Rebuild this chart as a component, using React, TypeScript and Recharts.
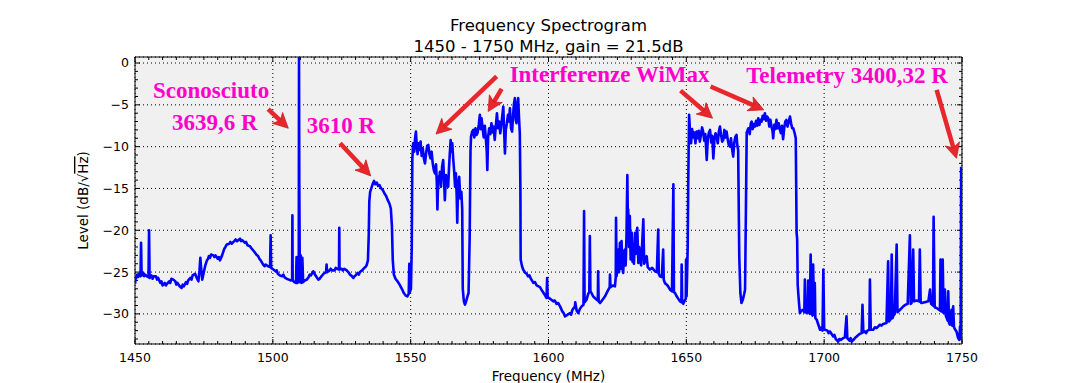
import React from "react";
import {
  CartesianGrid,
  Line,
  LineChart,
  ReferenceArea,
  ReferenceDot,
  ReferenceLine,
  XAxis,
  YAxis,
} from "recharts";

type Pt = [number, number];

// noise floor 1450-1534 MHz with a few narrow carriers
const floorLow: Pt[] = [
  [1450.0, -26.4], [1450.3, -25.6], [1450.8, -25.3], [1451.1, -25.6], [1451.4, -25.2], [1452.0, -25.5],
  [1452.2, -21.5], [1452.4, -25.4], [1453.0, -25.1], [1453.3, -25.5], [1453.6, -25.3], [1454.3, -25.5],
  [1454.9, -25.6], [1455.1, -20.0], [1455.3, -25.7], [1456.0, -25.4], [1456.4, -25.8], [1456.8, -25.5],
  [1457.6, -25.5], [1458.0, -25.9], [1458.4, -25.7], [1459.2, -26.3], [1459.6, -26.1], [1460.0, -26.6],
  [1460.8, -26.3], [1461.2, -26.6], [1461.6, -26.4], [1462.4, -26.1], [1462.8, -26.3], [1463.2, -25.8],
  [1463.9, -25.9], [1464.6, -26.1], [1465.0, -26.5], [1465.4, -26.3], [1466.2, -26.7], [1466.9, -26.9],
  [1467.3, -26.5], [1467.7, -26.7], [1468.5, -26.2], [1468.9, -26.4], [1469.3, -26.0], [1470.1, -25.7],
  [1470.5, -25.9], [1470.9, -25.4], [1471.8, -25.2], [1472.4, -25.7], [1473.0, -26.1], [1473.4, -24.8],
  [1473.7, -23.3], [1474.0, -24.6], [1474.4, -25.9], [1474.9, -25.1], [1475.5, -24.2], [1476.1, -23.6],
  [1476.5, -23.4], [1476.8, -23.1], [1477.2, -23.3], [1477.6, -22.9], [1478.4, -23.0], [1478.8, -23.2],
  [1479.2, -23.0], [1480.0, -23.4], [1480.4, -23.2], [1480.8, -23.6], [1481.6, -23.0], [1482.4, -22.2],
  [1482.8, -22.0], [1483.3, -21.7], [1484.2, -21.6], [1484.6, -21.4], [1485.1, -21.6], [1486.0, -21.3],
  [1486.5, -21.1], [1487.0, -21.3], [1488.1, -21.0], [1488.5, -21.3], [1489.0, -21.2], [1489.9, -21.5],
  [1490.3, -21.4], [1490.8, -21.8], [1491.7, -21.9], [1492.1, -22.1], [1492.6, -22.3], [1493.6, -22.7],
  [1494.0, -22.9], [1494.7, -23.1], [1495.1, -23.4], [1495.6, -23.6], [1496.5, -24.1], [1497.0, -24.3],
  [1497.4, -24.1], [1498.3, -24.3], [1499.0, -24.4], [1499.2, -20.6], [1499.4, -24.5], [1500.2, -24.7],
  [1501.0, -24.9], [1501.4, -24.8], [1501.8, -25.2], [1502.6, -25.4], [1503.4, -25.5], [1503.8, -25.3],
  [1504.2, -25.6], [1505.0, -25.8], [1505.8, -25.9], [1506.6, -26.0], [1507.0, -25.9], [1507.1, -18.2],
  [1507.2, -26.0], [1507.8, -26.2], [1508.4, -26.3], [1508.6, -23.2], [1508.9, -26.3], [1509.2, -23.4],
  [1509.4, -26.0], [1509.5, 0.72], [1509.6, -14.3], [1509.8, -26.2], [1510.1, -23.0], [1510.4, -26.3],
  [1510.7, -23.3], [1511.0, -26.2], [1511.6, -26.0], [1512.3, -25.9], [1513.0, -25.6], [1513.4, -25.3],
  [1513.8, -25.4], [1514.7, -24.9], [1515.1, -25.2], [1515.5, -25.4], [1516.5, -25.9], [1517.0, -25.8],
  [1517.4, -25.6], [1518.4, -25.2], [1519.3, -25.0], [1519.5, -24.1], [1519.7, -25.0], [1520.6, -24.8],
  [1521.0, -24.6], [1521.5, -24.8], [1522.4, -24.8], [1522.8, -24.5], [1523.3, -24.6], [1524.0, -24.7],
  [1524.1, -19.7], [1524.2, -24.7], [1525.0, -24.6], [1525.4, -24.8], [1525.9, -24.6], [1526.8, -24.8],
  [1527.6, -25.1], [1528.0, -25.3], [1528.4, -25.4], [1529.2, -25.7], [1529.6, -25.5], [1530.0, -25.4],
  [1530.8, -25.1], [1531.2, -25.3], [1531.6, -25.0], [1532.4, -24.8], [1533.2, -24.5], [1533.6, -24.4],
  [1534.0, -24.2], [1534.5, -23.6],
];

// 3610 R carrier
const hump1538: Pt[] = [
  [1534.8, -20.5], [1535.0, -16.5], [1535.3, -15.4], [1535.8, -14.9], [1536.3, -14.4], [1536.7, -14.1],
  [1537.2, -14.5], [1537.7, -14.3], [1538.2, -14.7], [1538.7, -14.6], [1539.3, -15.0], [1539.9, -15.2],
  [1540.5, -15.6], [1541.1, -15.9], [1541.7, -16.4], [1542.3, -16.8], [1542.8, -17.4], [1543.2, -19.5],
  [1543.5, -23.5], [1543.9, -25.3], [1544.5, -25.8], [1545.2, -26.1], [1546.0, -26.5], [1546.8, -27.0],
  [1547.5, -27.5], [1548.2, -27.8], [1548.8, -27.9], [1549.3, -27.6], [1549.5, -24.0], [1549.7, -27.4],
  [1550.1, -27.0], [1550.4, -22.0],
];

const band1560: Pt[] = [
  [1550.6, -11.5], [1550.9, -9.6], [1551.3, -10.6], [1551.6, -9.0], [1551.9, -8.2], [1552.2, -9.8],
  [1552.5, -10.9], [1552.8, -9.6], [1553.2, -10.4], [1553.6, -9.4], [1554.0, -11.1], [1554.4, -10.2],
  [1554.8, -11.4], [1555.2, -12.0], [1555.6, -10.8], [1556.0, -9.9], [1556.4, -9.8], [1556.8, -10.9],
  [1557.2, -11.4], [1557.6, -10.6], [1558.0, -12.0], [1558.4, -12.8], [1558.8, -13.2], [1559.2, -12.1],
  [1559.5, -14.5], [1559.7, -17.5], [1560.0, -13.6], [1560.3, -14.2], [1560.6, -13.0], [1561.0, -14.8],
  [1561.4, -12.4], [1561.8, -11.6], [1562.1, -13.9], [1562.4, -16.4], [1562.8, -13.4], [1563.2, -14.6],
  [1563.6, -14.8], [1563.9, -12.6], [1564.2, -10.8], [1564.5, -9.2], [1564.8, -10.6], [1565.1, -9.6],
  [1565.4, -11.3], [1565.8, -13.0], [1566.1, -14.8], [1566.4, -13.2], [1566.7, -16.0], [1566.9, -19.1],
  [1567.2, -14.6], [1567.6, -13.6], [1568.0, -16.2], [1568.4, -15.4], [1568.7, -17.5], [1568.9, -27.0],
  [1569.3, -28.5], [1569.7, -28.9], [1570.2, -28.4], [1570.6, -27.9], [1571.0, -27.5], [1571.4, -21.0],
];

const band1580: Pt[] = [
  [1571.7, -10.5], [1571.9, -8.8], [1572.3, -8.2], [1572.7, -8.0], [1573.1, -8.9], [1573.5, -7.8],
  [1573.9, -8.6], [1574.3, -8.3], [1574.7, -7.4], [1575.1, -6.2], [1575.4, -7.9], [1575.7, -6.6],
  [1576.1, -7.8], [1576.5, -8.9], [1576.9, -7.5], [1577.3, -9.2], [1577.6, -10.5], [1577.8, -12.8],
  [1578.1, -8.8], [1578.5, -7.8], [1578.9, -8.5], [1579.3, -7.2], [1579.7, -8.3], [1580.1, -7.6],
  [1580.5, -9.2], [1580.9, -7.5], [1581.3, -6.0], [1581.7, -7.8], [1582.1, -7.0], [1582.5, -8.4],
  [1582.9, -7.4], [1583.3, -6.1], [1583.6, -5.2], [1583.9, -8.1], [1584.2, -10.8], [1584.5, -8.0],
  [1584.9, -7.2], [1585.3, -6.2], [1585.7, -7.0], [1586.0, -5.4], [1586.4, -7.8], [1586.8, -8.2],
  [1587.2, -6.0], [1587.5, -4.8], [1587.8, -4.2], [1588.1, -6.8], [1588.4, -7.2], [1588.7, -5.0],
  [1589.0, -4.2], [1589.3, -6.5], [1589.6, -8.5], [1589.8, -15.0], [1589.9, -23.5], [1590.4, -24.3],
  [1590.8, -24.7], [1591.2, -24.9], [1591.6, -25.1], [1592.1, -25.2], [1592.6, -25.5], [1593.1, -25.4],
  [1593.6, -25.8], [1594.0, -26.0], [1594.5, -26.3], [1595.1, -26.2], [1595.7, -26.6],
];

const floorMid: Pt[] = [
  [1596.9, -26.8], [1597.8, -27.3], [1598.6, -27.7], [1599.3, -28.1], [1599.5, -25.7], [1599.7, -28.0],
  [1600.6, -28.2], [1601.7, -28.5], [1602.3, -28.4], [1602.9, -28.8], [1603.5, -28.7], [1604.2, -29.1],
  [1605.0, -29.7], [1605.5, -29.9], [1606.0, -30.3], [1606.9, -30.1], [1607.8, -29.9], [1608.2, -30.1],
  [1608.7, -29.5], [1609.6, -29.1], [1609.7, -28.6], [1610.2, -29.6], [1610.8, -29.9], [1611.4, -29.4],
  [1612.0, -29.1], [1612.7, -28.9], [1612.9, -17.7], [1613.1, -28.6], [1613.8, -28.3], [1614.4, -27.6],
  [1614.8, -27.4], [1615.0, -20.7], [1615.2, -27.3], [1615.6, -27.5], [1616.2, -27.9], [1616.8, -28.1],
  [1617.5, -28.3], [1617.9, -28.4], [1618.0, -24.9], [1618.2, -28.5], [1618.7, -28.7], [1619.6, -28.3],
  [1620.5, -27.9], [1621.4, -27.3], [1622.2, -26.8], [1622.3, -25.3], [1622.5, -26.8], [1623.3, -26.6],
  [1624.1, -26.7], [1624.4, -25.6], [1624.5, -18.5], [1624.7, -25.5], [1625.0, -24.2], [1625.3, -22.3],
  [1625.6, -25.0], [1625.9, -21.5], [1626.2, -24.6], [1626.5, -21.3], [1626.8, -24.5], [1627.1, -25.1],
  [1627.4, -22.5], [1627.7, -22.3], [1628.0, -24.2], [1628.3, -20.5], [1628.6, -13.4], [1628.8, -19.0],
  [1628.9, -17.5], [1629.2, -22.0], [1629.5, -18.3], [1629.8, -23.5], [1630.2, -20.3], [1630.5, -23.8],
  [1630.7, -22.3], [1631.0, -24.0], [1631.4, -20.3], [1631.8, -22.8], [1632.2, -19.7], [1632.6, -23.9],
  [1632.9, -22.0], [1633.2, -23.1], [1633.6, -24.2], [1634.0, -21.5], [1634.4, -18.7], [1634.7, -24.0],
  [1635.2, -23.6], [1635.6, -23.1], [1636.0, -24.4], [1636.8, -24.7], [1637.6, -24.5], [1638.6, -24.9],
  [1639.3, -25.0], [1639.8, -19.9], [1640.0, -25.2], [1640.4, -25.5], [1641.1, -25.6], [1641.6, -22.3],
  [1641.8, -25.9], [1642.2, -26.3], [1643.2, -26.6], [1644.1, -27.1], [1644.8, -27.3], [1645.3, -14.5],
  [1645.5, -27.4], [1645.9, -27.5], [1646.5, -27.9], [1647.1, -28.2], [1647.7, -28.5], [1648.2, -28.6],
  [1648.3, -24.1], [1648.5, -28.6], [1648.9, -28.8], [1649.4, -28.4], [1649.8, -28.2], [1649.9, -23.5],
  [1650.1, -27.9], [1650.5, -22.0],
];

const wimax1660: Pt[] = [
  [1650.7, -14.0], [1651.0, -6.2], [1651.3, -8.0], [1651.7, -9.6], [1652.1, -7.9], [1652.5, -8.9],
  [1652.9, -8.3], [1653.3, -9.6], [1653.7, -8.2], [1654.1, -9.0], [1654.5, -8.1], [1654.9, -9.4],
  [1655.3, -8.6], [1655.7, -7.7], [1656.1, -8.2], [1656.5, -9.3], [1656.9, -8.5], [1657.4, -11.6],
  [1657.8, -9.0], [1658.2, -8.3], [1658.6, -8.0], [1659.0, -9.5], [1659.4, -8.7], [1659.8, -11.4],
  [1660.2, -9.1], [1660.6, -8.4], [1661.0, -8.8], [1661.4, -9.6], [1661.8, -8.2], [1662.2, -7.6],
  [1662.6, -8.6], [1663.0, -9.4], [1663.4, -9.2], [1663.8, -8.0], [1664.2, -8.9], [1664.6, -8.2],
  [1665.0, -9.1], [1665.4, -9.8], [1665.8, -10.0], [1666.2, -9.0], [1666.6, -10.3], [1667.0, -11.2],
  [1667.4, -9.5], [1667.8, -8.8], [1668.2, -8.6], [1668.5, -9.9], [1668.8, -10.4], [1669.2, -23.1],
  [1669.6, -27.5], [1670.0, -28.7], [1670.5, -28.3], [1671.0, -27.6], [1671.3, -27.1], [1671.6, -18.0],
];

const wimax1680: Pt[] = [
  [1671.9, -8.3], [1672.5, -7.8], [1673.0, -8.5], [1673.4, -7.2], [1673.7, -7.0], [1674.1, -7.9],
  [1674.5, -7.3], [1674.9, -7.6], [1675.3, -6.9], [1675.7, -7.5], [1676.1, -6.6], [1676.5, -7.4],
  [1676.9, -6.8], [1677.3, -7.0], [1677.7, -6.3], [1678.1, -6.7], [1678.5, -6.0], [1678.9, -6.9],
  [1679.3, -6.4], [1679.7, -6.6], [1680.1, -7.6], [1680.5, -6.8], [1680.9, -7.6], [1681.3, -8.2],
  [1681.5, -9.0], [1681.9, -7.4], [1682.3, -7.9], [1682.7, -6.8], [1683.1, -7.8], [1683.5, -7.2],
  [1683.9, -7.9], [1684.3, -8.4], [1684.7, -7.5], [1685.1, -9.1], [1685.5, -7.8], [1685.9, -7.0],
  [1686.3, -6.8], [1686.7, -7.6], [1687.1, -7.1], [1687.6, -6.4], [1688.0, -7.2], [1688.4, -7.8],
  [1688.8, -7.8], [1689.3, -8.4], [1689.7, -9.0], [1690.0, -20.3], [1690.2, -21.0], [1690.4, -26.5],
];

const floorHigh: Pt[] = [
  [1690.6, -27.5], [1690.9, -28.8], [1691.2, -29.9], [1691.8, -29.6], [1692.4, -29.5], [1692.8, -29.8],
  [1693.0, -25.9], [1693.2, -29.6], [1693.6, -29.9], [1694.0, -29.7], [1694.2, -26.0], [1694.4, -29.8],
  [1694.8, -30.0], [1695.1, -22.9], [1695.4, -29.8], [1695.8, -30.2], [1696.0, -24.1], [1696.3, -30.1],
  [1696.6, -26.3], [1696.8, -30.5], [1697.3, -30.7], [1697.9, -31.3], [1698.5, -31.9], [1699.0, -31.6],
  [1699.4, -32.0], [1699.7, -24.7], [1700.0, -31.8], [1700.3, -31.9], [1701.2, -32.0], [1701.6, -32.3],
  [1702.1, -32.1], [1702.7, -32.4], [1703.3, -32.7], [1703.7, -32.5], [1704.2, -33.0], [1705.1, -33.3],
  [1705.5, -33.0], [1706.0, -33.1], [1706.9, -32.9], [1707.5, -32.8], [1708.1, -30.3], [1708.4, -32.9],
  [1709.2, -33.2], [1709.6, -32.9], [1710.0, -33.3], [1710.9, -33.0], [1711.4, -32.8], [1711.8, -32.7],
  [1712.8, -32.4], [1713.6, -32.3], [1713.9, -28.9], [1714.2, -32.2], [1714.8, -32.1], [1715.2, -32.3],
  [1715.7, -32.0], [1716.4, -31.9], [1716.6, -25.9], [1716.9, -31.9], [1717.8, -31.9], [1718.4, -31.6],
  [1719.0, -31.7], [1720.2, -31.3], [1720.8, -31.4], [1721.4, -31.2], [1722.6, -31.1], [1723.2, -23.7],
  [1723.5, -30.9], [1724.2, -30.6], [1724.5, -22.9], [1724.8, -30.5], [1725.0, -30.3], [1725.6, -30.0],
  [1726.3, -21.7], [1726.6, -29.8], [1727.5, -29.5], [1728.1, -29.3], [1728.7, -29.1], [1729.5, -28.9],
  [1730.3, -28.8], [1731.1, -20.6], [1731.4, -28.8], [1731.7, -28.7], [1732.3, -22.3], [1732.6, -28.5],
  [1733.5, -28.4], [1734.4, -28.5], [1734.7, -22.3], [1735.0, -28.6], [1735.3, -28.7], [1736.5, -28.6],
  [1737.8, -28.5], [1738.4, -27.1], [1738.8, -28.8], [1739.5, -29.0], [1739.7, -18.4], [1740.1, -29.2],
  [1740.8, -29.3], [1742.0, -29.6], [1742.2, -23.5], [1742.5, -29.7], [1743.0, -23.5], [1743.3, -29.9],
  [1743.8, -27.1], [1744.1, -30.2], [1744.8, -30.8], [1745.0, -27.3], [1745.3, -31.1], [1745.6, -31.3],
  [1746.2, -29.5], [1746.5, -31.4], [1746.8, -29.1], [1747.1, -31.6], [1747.4, -31.8], [1748.0, -32.1],
  [1748.6, -32.9], [1749.0, -33.1], [1749.3, -31.5], [1749.5, -33.0], [1749.7, -12.4],
];

const spectrum = [
  ...floorLow, ...hump1538, ...band1560, ...band1580,
  ...floorMid, ...wimax1660, ...wimax1680, ...floorHigh,
].map(([f, level]) => ({ f, level }));

const xDomain: [number, number] = [1450, 1750];
const yDomain: [number, number] = [-33.6, 0.72];
const xTicks = [1450, 1500, 1550, 1600, 1650, 1700, 1750];
const yTicks = [0, -5, -10, -15, -20, -25, -30];

// minor ticks: every 5 MHz and every 1 dB
const xMinor: number[] = [];
for (let f = 1455; f < 1750; f += 5) if (f % 50 !== 0) xMinor.push(f);
const yMinor: number[] = [];
for (let v = -33; v < 0; v += 1) if (v % 5 !== 0) yMinor.push(v);

const notes = [
  { f: 1456.5, level: -4.15, text: "Sconosciuto" },
  { f: 1463.4, level: -7.98, text: "3639,6 R" },
  { f: 1512.3, level: -8.34, text: "3610 R" },
  { f: 1585.9, level: -2.31, text: "Interferenze WiMax" },
  { f: 1671.7, level: -2.42, text: "Telemetry 3400,32 R" },
];

const arrows: { from: Pt; to: Pt }[] = [
  { from: [1498.3, -5.5], to: [1505.6, -7.8] },
  { from: [1524.4, -9.6], to: [1535.5, -13.5] },
  { from: [1581.2, -1.6], to: [1559.2, -8.5] },
  { from: [1583.0, -3.1], to: [1578.1, -5.8] },
  { from: [1647.9, -3.3], to: [1659.5, -6.6] },
  { from: [1658.8, -2.8], to: [1678.1, -5.6] },
  { from: [1740.8, -3.2], to: [1748.0, -11.4] },
];

const minus = (v: number) => (v < 0 ? "\u2212" + Math.abs(v) : String(v));

const xTickMarks = (len: number) => (p: any) => {
  const top = Math.min(p.y1, p.y2);
  const bottom = Math.max(p.y1, p.y2);
  return (
    <g stroke="#000" strokeWidth={1}>
      <line x1={p.x1} x2={p.x1} y1={bottom} y2={bottom - len} />
      <line x1={p.x1} x2={p.x1} y1={top} y2={top + len} />
    </g>
  );
};

const yTickMarks = (len: number) => (p: any) => {
  const left = Math.min(p.x1, p.x2);
  const right = Math.max(p.x1, p.x2);
  return (
    <g stroke="#000" strokeWidth={1}>
      <line x1={left} x2={left + len} y1={p.y1} y2={p.y1} />
      <line x1={right} x2={right - len} y1={p.y1} y2={p.y1} />
    </g>
  );
};

const ARROW_RED = "#e8262b";

function arrowShape(p: any) {
  const { x1, y1, x2, y2 } = p;
  const dx = x2 - x1;
  const dy = y2 - y1;
  const len = Math.hypot(dx, dy) || 1;
  const ux = dx / len;
  const uy = dy / len;
  const nx = -uy;
  const ny = ux;
  const head = 15;
  const half = 7.5;
  const bx = x2 - ux * head;
  const by = y2 - uy * head;
  const notch = 4;
  const pts = [
    [x2, y2],
    [bx + nx * half, by + ny * half],
    [bx + ux * notch, by + uy * notch],
    [bx - nx * half, by - ny * half],
  ]
    .map((q) => q.join(","))
    .join(" ");
  return (
    <g>
      <line x1={x1} y1={y1} x2={bx + ux * notch} y2={by + uy * notch} stroke={ARROW_RED} strokeWidth={4.5} />
      <polygon points={pts} fill={ARROW_RED} stroke="#c81e22" strokeWidth={0.8} />
    </g>
  );
}

const noteShape = (text: string) => (p: any) => (
  <text
    x={p.cx}
    y={p.cy}
    fill="#ff00cc"
    fontFamily='"Liberation Serif", serif'
    fontWeight="bold"
    fontSize={23}
  >
    {text}
  </text>
);

export default function App() {
  const W = 1069;
  const H = 383;
  return (
    <div style={{ position: "absolute", left: 0, top: 0, width: W, height: H, background: "#fff" }}>
      <LineChart
        width={W}
        height={H}
        data={spectrum}
        margin={{ top: 57, right: 107, bottom: 9, left: 75 }}
      >
        <CartesianGrid stroke="#000" strokeDasharray="1 3" fill="#f0f0f0" fillOpacity={1} />
        <XAxis
          type="number"
          dataKey="f"
          domain={xDomain}
          ticks={xTicks}
          allowDataOverflow
          height={30}
          axisLine={false}
          tickLine={false}
          tickSize={0}
          tickMargin={9}
          tick={{ fill: "#000", fontSize: 12.5, fontFamily: '"DejaVu Sans"' }}
        />
        <YAxis
          type="number"
          domain={yDomain}
          ticks={yTicks}
          allowDataOverflow
          width={60}
          axisLine={false}
          tickLine={false}
          tickSize={0}
          tickMargin={6}
          tickFormatter={minus}
          tick={{ fill: "#000", fontSize: 12.5, fontFamily: '"DejaVu Sans"' }}
        />
        {xTicks.map((f) => (
          <ReferenceLine key={"xM" + f} x={f} shape={xTickMarks(5)} />
        ))}
        {xMinor.map((f) => (
          <ReferenceLine key={"xm" + f} x={f} shape={xTickMarks(3)} />
        ))}
        {yTicks.map((v) => (
          <ReferenceLine key={"yM" + v} y={v} shape={yTickMarks(5)} />
        ))}
        {yMinor.map((v) => (
          <ReferenceLine key={"ym" + v} y={v} shape={yTickMarks(3)} />
        ))}
        <ReferenceArea
          x1={xDomain[0]}
          x2={xDomain[1]}
          y1={yDomain[0]}
          y2={yDomain[1]}
          fill="none"
          fillOpacity={0}
          stroke="#000"
          strokeWidth={1}
        />
        <Line
          type="linear"
          dataKey="level"
          stroke="#0000ff"
          strokeWidth={2.6}
          strokeLinejoin="round"
          dot={false}
          isAnimationActive={false}
        />
        {arrows.map((a, i) => (
          <ReferenceLine
            key={"ar" + i}
            segment={[
              { x: a.from[0], y: a.from[1] },
              { x: a.to[0], y: a.to[1] },
            ]}
            shape={arrowShape}
          />
        ))}
        {notes.map((n) => (
          <ReferenceDot key={n.text} x={n.f} y={n.level} r={0} shape={noteShape(n.text)} />
        ))}
      </LineChart>
      <svg
        width={W}
        height={H}
        style={{ position: "absolute", left: 0, top: 0, pointerEvents: "none" }}
        fontFamily='"DejaVu Sans"'
      >
        <text x={548.5} y={31} textAnchor="middle" fontSize={16.5} fill="#000">
          Frequency Spectrogram
        </text>
        <text x={548.5} y={52.3} textAnchor="middle" fontSize={16.5} fill="#000">
          1450 - 1750 MHz, gain = 21.5dB
        </text>
        <text x={548.5} y={381} textAnchor="middle" fontSize={13.5} fill="#000">
          Frequency (MHz)
        </text>
        <text
          x={88}
          y={200.5}
          textAnchor="middle"
          fontSize={13.5}
          fill="#000"
          transform="rotate(-90 88 200.5)"
        >
          Level (dB/
          <tspan>{"\u221A"}</tspan>
          <tspan style={{ textDecoration: "overline" }}>Hz</tspan>)
        </text>
      </svg>
    </div>
  );
}
